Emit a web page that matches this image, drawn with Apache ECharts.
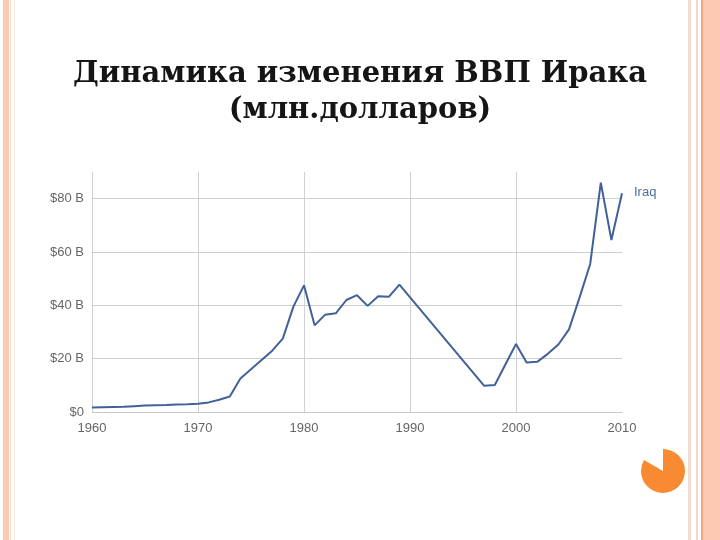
<!DOCTYPE html>
<html>
<head>
<meta charset="utf-8">
<script src="https://cdn.jsdelivr.net/npm/echarts@6/dist/echarts.min.js"></script>
<style>
html,body{margin:0;padding:0;background:#fff;}
#chart{width:720px;height:540px;}
</style>
</head>
<body>
<div id="chart"></div>
<script>
var titleLines = ['Динамика изменения ВВП Ирака', '(млн.долларов)'];
var seriesName = 'Iraq';
var years = [1960,1961,1962,1963,1964,1965,1966,1967,1968,1969,
             1970,1971,1972,1973,1974,1975,1976,1977,1978,1979,
             1980,1981,1982,1983,1984,1985,1986,1987,1988,1989,
             1997,1998,2000,2001,2002,2003,2004,2005,2006,2007,2008,2009,2010];
var gdp = [1.7,1.8,1.9,2.0,2.2,2.4,2.5,2.6,2.8,2.9,
           3.1,3.6,4.6,5.8,12.6,16.0,19.5,23.0,27.5,39.5,
           47.5,32.5,36.5,37.0,42.0,43.8,39.8,43.4,43.2,47.8,
           9.8,10.1,25.5,18.6,18.8,21.8,25.3,31.0,43.0,55.5,86.0,64.5,82.0];
var xTicks = [1960,1970,1980,1990,2000,2010];
var yTickValues = [0,20,40,60,80];
var yTickLabels = ['$0','$20 B','$40 B','$60 B','$80 B'];

var points = years.map(function(y,i){return [y,gdp[i]];});
var chart = echarts.init(document.getElementById('chart'));
var peach = '#fcc9b3';
var labelFont = 'Liberation Sans Narrow, Arial Narrow, Liberation Sans';
chart.setOption({
  animation:false,
  backgroundColor:'#fff',
  graphic:[
    {type:'rect',shape:{x:3,y:0,width:6,height:540},style:{fill:peach},silent:true},
    {type:'rect',shape:{x:10,y:0,width:1,height:540},style:{fill:'#f6dccf'},silent:true},
    {type:'rect',shape:{x:14,y:0,width:1,height:540},style:{fill:'#faeee0'},silent:true},
    {type:'rect',shape:{x:688,y:0,width:3,height:540},style:{fill:'#f3ddd0'},silent:true},
    {type:'rect',shape:{x:696,y:0,width:2,height:540},style:{fill:'#f6d5c4'},silent:true},
    {type:'rect',shape:{x:701,y:0,width:2,height:540},style:{fill:'#f0a585'},silent:true},
    {type:'rect',shape:{x:703,y:0,width:17,height:540},style:{fill:peach},silent:true},
    {type:'sector',shape:{cx:663,cy:471,r:22,r0:0,startAngle:-Math.PI/2,endAngle:Math.PI*7/6,clockwise:true},style:{fill:'#f88a32'},silent:true},
    {type:'text',left:'center',top:60,style:{text:titleLines[0],font:'bold 29px "DejaVu Serif"',fill:'#151515',textAlign:'center'}},
    {type:'text',left:'center',top:96,style:{text:titleLines[1],font:'bold 29px "DejaVu Serif"',fill:'#151515',textAlign:'center'}}
  ],
  grid:{left:92,right:98,top:172,bottom:128,containLabel:false},
  xAxis:{
    type:'value',min:1960,max:2010,interval:10,
    axisLine:{show:true,lineStyle:{color:'#c8c8c8',width:1}},
    axisTick:{show:false},
    axisLabel:{color:'#666',fontFamily:labelFont,fontSize:13,margin:10,
      formatter:function(v){return xTicks.indexOf(v)>=0?String(v):'';}},
    splitLine:{show:true,showMinLine:false,showMaxLine:false,lineStyle:{color:'#d0d0d0',width:1}}
  },
  yAxis:{
    type:'value',min:0,max:90,interval:20,
    axisLine:{show:true,lineStyle:{color:'#d0d0d0',width:1}},
    axisTick:{show:false},
    axisLabel:{color:'#666',fontFamily:labelFont,fontSize:13,margin:8,showMaxLabel:false,
      formatter:function(v){var i=yTickValues.indexOf(v);return i>=0?yTickLabels[i]:'';}},
    splitLine:{show:true,showMinLine:false,showMaxLine:false,lineStyle:{color:'#cfcfcf',width:1}}
  },
  series:[{
    name:seriesName,type:'line',data:points,showSymbol:false,symbol:'none',
    lineStyle:{color:'#42609a',width:2},
    endLabel:{show:true,formatter:seriesName,color:'#4f6ea3',fontFamily:labelFont,fontSize:13,distance:12,offset:[0,-1]}
  }]
});
</script>
</body>
</html>
